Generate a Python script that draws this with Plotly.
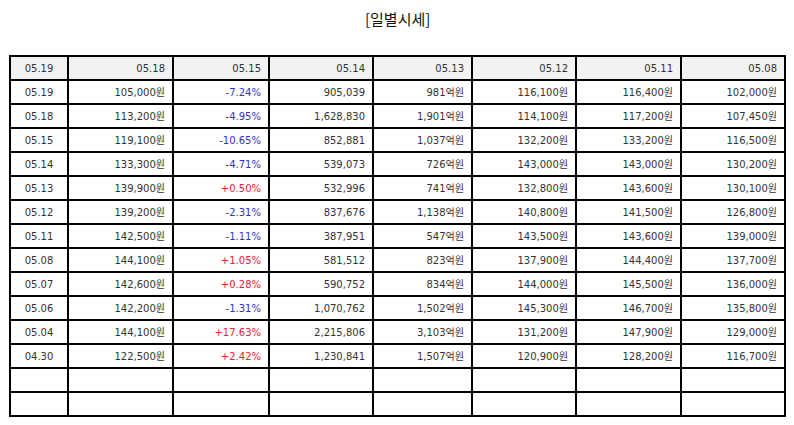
import plotly.graph_objects as go

# Daily price table ([일별시세])
header_dates = ["05.19", "05.18", "05.15", "05.14", "05.13", "05.12", "05.11", "05.08"]

row_dates = ["05.19", "05.18", "05.15", "05.14", "05.13", "05.12",
             "05.11", "05.08", "05.07", "05.06", "05.04", "04.30"]
close_prices = [105000, 113200, 119100, 133300, 139900, 139200,
                142500, 144100, 142600, 142200, 144100, 122500]
change_pct = [-7.24, -4.95, -10.65, -4.71, 0.50, -2.31,
              -1.11, 1.05, 0.28, -1.31, 17.63, 2.42]
volumes = [905039, 1628830, 852881, 539073, 532996, 837676,
           387951, 581512, 590752, 1070762, 2215806, 1230841]
trade_values = [981, 1901, 1037, 726, 741, 1138,
                547, 823, 834, 1502, 3103, 1507]
open_prices = [116100, 114100, 132200, 143000, 132800, 140800,
               143500, 137900, 144000, 145300, 131200, 120900]
high_prices = [116400, 117200, 133200, 143000, 143600, 141500,
               143600, 144400, 145500, 146700, 147900, 128200]
low_prices = [102000, 107450, 116500, 130200, 130100, 126800,
              139000, 137700, 136000, 135800, 129000, 116700]

blank_rows = 2

TEXT = "#333333"
RED = "#e8203c"
BLUE = "#3333cc"
FONT = "DejaVu Sans, Noto Sans CJK KR"


def won(values):
    return [f"{v:,}원" for v in values] + [""] * blank_rows


def pad(values):
    return list(values) + [""] * blank_rows


columns = [
    pad(row_dates),
    won(close_prices),
    pad([f"{v:+.2f}%" for v in change_pct]),
    pad([f"{v:,}" for v in volumes]),
    pad([f"{v:,}억원" for v in trade_values]),
    won(open_prices),
    won(high_prices),
    won(low_prices),
]

n_rows = len(row_dates) + blank_rows
font_colors = []
for i in range(len(columns)):
    if i == 2:
        font_colors.append([RED if v > 0 else BLUE for v in change_pct] + [TEXT] * blank_rows)
    else:
        font_colors.append([TEXT] * n_rows)

col_widths = [58, 105, 96, 104, 99, 104, 105, 104]
aligns = ["center"] + ["right"] * 7

fig = go.Figure(
    go.Table(
        columnwidth=col_widths,
        header=dict(
            values=header_dates,
            fill_color="#f2f2f2",
            line=dict(color="black", width=1.2),
            align=aligns,
            font=dict(family=FONT, size=10, color=TEXT),
            height=24,
        ),
        cells=dict(
            values=columns,
            fill_color="white",
            line=dict(color="black", width=1.2),
            align=aligns,
            font=dict(family=FONT, size=10, color=font_colors),
            height=24,
        ),
    )
)

fig.update_layout(
    width=794,
    height=425,
    margin=dict(l=2, r=17, t=48, b=0),
    paper_bgcolor="white",
)

# title as a paper annotation (page body adds an 8px offset)
fig.add_annotation(
    text="[일별시세]",
    xref="paper", yref="paper",
    x=(389 - 2) / 775, y=(425 - 11) / 377,
    xanchor="center", yanchor="middle",
    showarrow=False,
    borderpad=0,
    font=dict(family="Noto Sans CJK KR", size=15, color="#111111"),
)

fig.write_html("out.html")
